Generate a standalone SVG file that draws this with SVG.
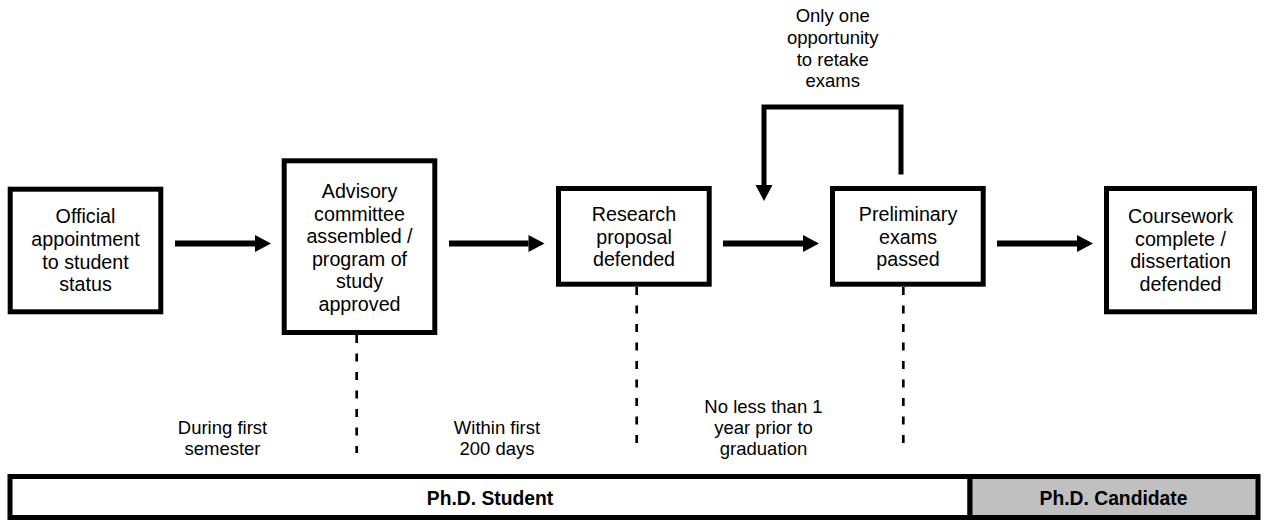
<svg xmlns="http://www.w3.org/2000/svg" width="1264" height="523" viewBox="0 0 1264 523">
<style>
.box{fill:#fff;stroke:#000;stroke-width:5}
.t{font-family:"Liberation Sans",Arial,sans-serif;font-size:19.7px;fill:#000;text-anchor:middle}
.s{font-family:"Liberation Sans",Arial,sans-serif;font-size:18.5px;fill:#000;text-anchor:middle}
.b{font-family:"Liberation Sans",Arial,sans-serif;font-size:19.3px;font-weight:bold;fill:#000;text-anchor:middle}
.arr{fill:none;stroke:#000;stroke-width:6}
.loop{fill:none;stroke:#000;stroke-width:5}
.dash{fill:none;stroke:#000;stroke-width:2.7;stroke-dasharray:8 10.5}
</style>
<defs>
<marker id="ah" markerUnits="userSpaceOnUse" markerWidth="16" markerHeight="17" refX="0" refY="8.5" orient="auto" overflow="visible">
<path d="M0,0 L16,8.5 L0,17 Z" fill="#000"/>
</marker>
</defs>
<rect width="1264" height="523" fill="#fff"/>
<g id="connectors">
<line class="arr" x1="175" y1="243.5" x2="255" y2="243.5" marker-end="url(#ah)"/>
<line class="arr" x1="449" y1="243.5" x2="528.5" y2="243.5" marker-end="url(#ah)"/>
<line class="arr" x1="723" y1="243.5" x2="803" y2="243.5" marker-end="url(#ah)"/>
<line class="arr" x1="997" y1="243.5" x2="1077" y2="243.5" marker-end="url(#ah)"/>
<path class="loop" d="M901,174.5 V107 H764 V185" marker-end="url(#ah)"/>
<line class="dash" x1="356.7" y1="335" x2="356.7" y2="453"/>
<line class="dash" x1="636.7" y1="287" x2="636.7" y2="444"/>
<line class="dash" x1="903.3" y1="287" x2="903.3" y2="444"/>
</g>
<g id="n1">
<rect class="box" x="10.2" y="189.2" width="150.6" height="122.6"/>
<text class="t"><tspan x="85.5" y="223.3">Official</tspan><tspan x="85.5" y="246">appointment</tspan><tspan x="85.5" y="268.5">to student</tspan><tspan x="85.5" y="291">status</tspan></text>
</g>
<g id="n2">
<rect class="box" x="284.2" y="160.8" width="150.6" height="171.7"/>
<text class="t"><tspan x="359.5" y="198">Advisory</tspan><tspan x="359.5" y="220.5">committee</tspan><tspan x="359.5" y="243">assembled /</tspan><tspan x="359.5" y="265.5">program of</tspan><tspan x="359.5" y="288">study</tspan><tspan x="359.5" y="310.5">approved</tspan></text>
</g>
<g id="n3">
<rect class="box" x="558.5" y="188.5" width="150.7" height="95.7"/>
<text class="t"><tspan x="634" y="221">Research</tspan><tspan x="634" y="243.5">proposal</tspan><tspan x="634" y="266">defended</tspan></text>
</g>
<g id="n4">
<rect class="box" x="832.5" y="188.5" width="150.7" height="95.7"/>
<text class="t"><tspan x="908" y="221">Preliminary</tspan><tspan x="908" y="243.5">exams</tspan><tspan x="908" y="266">passed</tspan></text>
</g>
<g id="n5">
<rect class="box" x="1106.5" y="188.5" width="148" height="123.3"/>
<text class="t"><tspan x="1180.5" y="223">Coursework</tspan><tspan x="1180.5" y="245.5">complete /</tspan><tspan x="1180.5" y="268">dissertation</tspan><tspan x="1180.5" y="290.5">defended</tspan></text>
</g>
<g id="retake-label">
<text class="s"><tspan x="832.7" y="22">Only one</tspan><tspan x="832.7" y="44">opportunity</tspan><tspan x="832.7" y="65.5">to retake</tspan><tspan x="832.7" y="87">exams</tspan></text>
</g>
<g id="time-labels">
<text class="s"><tspan x="222.5" y="434">During first</tspan><tspan x="222.5" y="454.5">semester</tspan></text>
<text class="s"><tspan x="497" y="434">Within first</tspan><tspan x="497" y="454.5">200 days</tspan></text>
<text class="s"><tspan x="763.5" y="413">No less than 1</tspan><tspan x="763.5" y="434">year prior to</tspan><tspan x="763.5" y="455">graduation</tspan></text>
</g>
<g id="timeline">
<rect x="10" y="476.5" width="960" height="41" fill="#fff" stroke="#000" stroke-width="5"/>
<rect x="970" y="476.5" width="288" height="41" fill="#c0c0c0" stroke="#000" stroke-width="5"/>
<text class="b" x="490" y="505">Ph.D. Student</text>
<text class="b" x="1113.5" y="505">Ph.D. Candidate</text>
</g>
</svg>
